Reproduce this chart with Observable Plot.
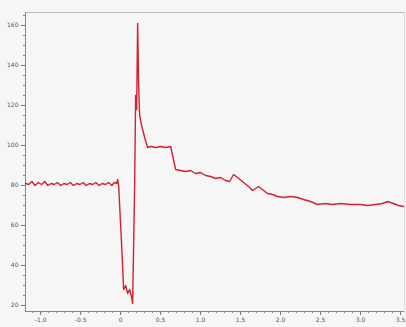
<!DOCTYPE html>
<html>
<head>
<meta charset="utf-8">
<script src="https://cdn.jsdelivr.net/npm/d3@7"></script>
<script src="https://cdn.jsdelivr.net/npm/@observablehq/plot@0.6"></script>
<style>
html,body{margin:0;padding:0;background:#f6f6f6;}
</style>
</head>
<body>
<div id="chart"></div>
<script>
const times = [-1.19,-1.15,-1.11,-1.07,-1.03,-0.99,-0.95,-0.91,-0.87,-0.83,-0.79,-0.75,-0.71,-0.67,-0.63,-0.59,-0.55,-0.51,-0.47,-0.43,-0.39,-0.35,-0.31,-0.27,-0.23,-0.19,-0.15,-0.11,-0.08,-0.05,-0.0375,-0.025,0.0125,0.0375,0.0625,0.0875,0.1125,0.1375,0.15,0.175,0.1875,0.2,0.2125,0.225,0.2375,0.2625,0.3,0.3375,0.375,0.4375,0.5,0.5625,0.625,0.65,0.6875,0.75,0.8125,0.875,0.9375,1.0,1.0625,1.125,1.1875,1.25,1.3125,1.3625,1.4125,1.4625,1.5375,1.6,1.65,1.725,1.7875,1.8375,1.9,1.9625,2.0375,2.125,2.2125,2.2875,2.375,2.4625,2.5625,2.65,2.75,2.875,3.0,3.0875,3.1875,3.275,3.3375,3.4125,3.475,3.5375];
const values = [81,80.5,82,80,81.5,80.5,82,80,81,80.5,81.5,80,81,80.5,81.5,80,81,80.5,81.5,80,81,80.5,81.5,80,81,80.5,81.5,80,81.5,81,83,80,50,28,30,26,28,24,21,80,125,118,161,130,115,110,104,99,99.5,99,99.5,99,99.5,95,88,87.5,87,87.5,86,86.5,85,84.5,83.5,84,82.5,82,85.5,84,81.5,79.5,77.5,79.5,77.5,76,75.5,74.5,74,74.5,74,73,72,70.5,71,70.5,71,70.5,70.5,70,70.5,71,72,71,70,69.5];
const xTicks = [-1.0,-0.5,0,0.5,1.0,1.5,2.0,2.5,3.0,3.5];
const xTickLabels = ["-1.0","-0.5","0","0.5","1.0","1.5","2.0","2.5","3.0","3.5"];
const yTicks = [20,40,60,80,100,120,140,160];

const data = times.map((t,i)=>({t, v: values[i]}));
const xMinor = d3.range(-11, 36, 1).map(d=>d/10);
const yMinor = d3.range(20, 166, 5);

const chart = Plot.plot({
  width: 406,
  height: 327,
  marginLeft: 25,
  marginTop: 12,
  marginRight: 2,
  marginBottom: 16,
  style: {background: "#f6f6f6", fontFamily: "DejaVu Sans", fontSize: "6px", color: "#555"},
  x: {type: "linear", domain: [-1.19, 3.55], label: null},
  y: {type: "linear", domain: [17, 166.5], label: null},
  marks: [
    Plot.frame({anchor: "top", stroke: "#bbb"}),
    Plot.frame({anchor: "right", stroke: "#ddd"}),
    Plot.axisX({ticks: xMinor, tickSize: 2, text: null, stroke: "#888", label: null}),
    Plot.axisX({ticks: xTicks, tickFormat: d=>xTickLabels[xTicks.indexOf(d)], tickSize: 4, stroke: "#777", fill: "#555", tickPadding: 2, label: null}),
    Plot.axisY({ticks: yMinor, tickSize: 2, text: null, stroke: "#888", label: null}),
    Plot.axisY({ticks: yTicks, tickSize: 4, stroke: "#777", fill: "#555", tickPadding: 3, label: null}),
    Plot.ruleY([17], {stroke: "#888"}),
    Plot.ruleX([-1.19], {stroke: "#888"}),
    Plot.line(data, {x: "t", y: "v", stroke: "#d42030", strokeWidth: 1.4})
  ]
});
document.getElementById("chart").appendChild(chart);
</script>
</body>
</html>
